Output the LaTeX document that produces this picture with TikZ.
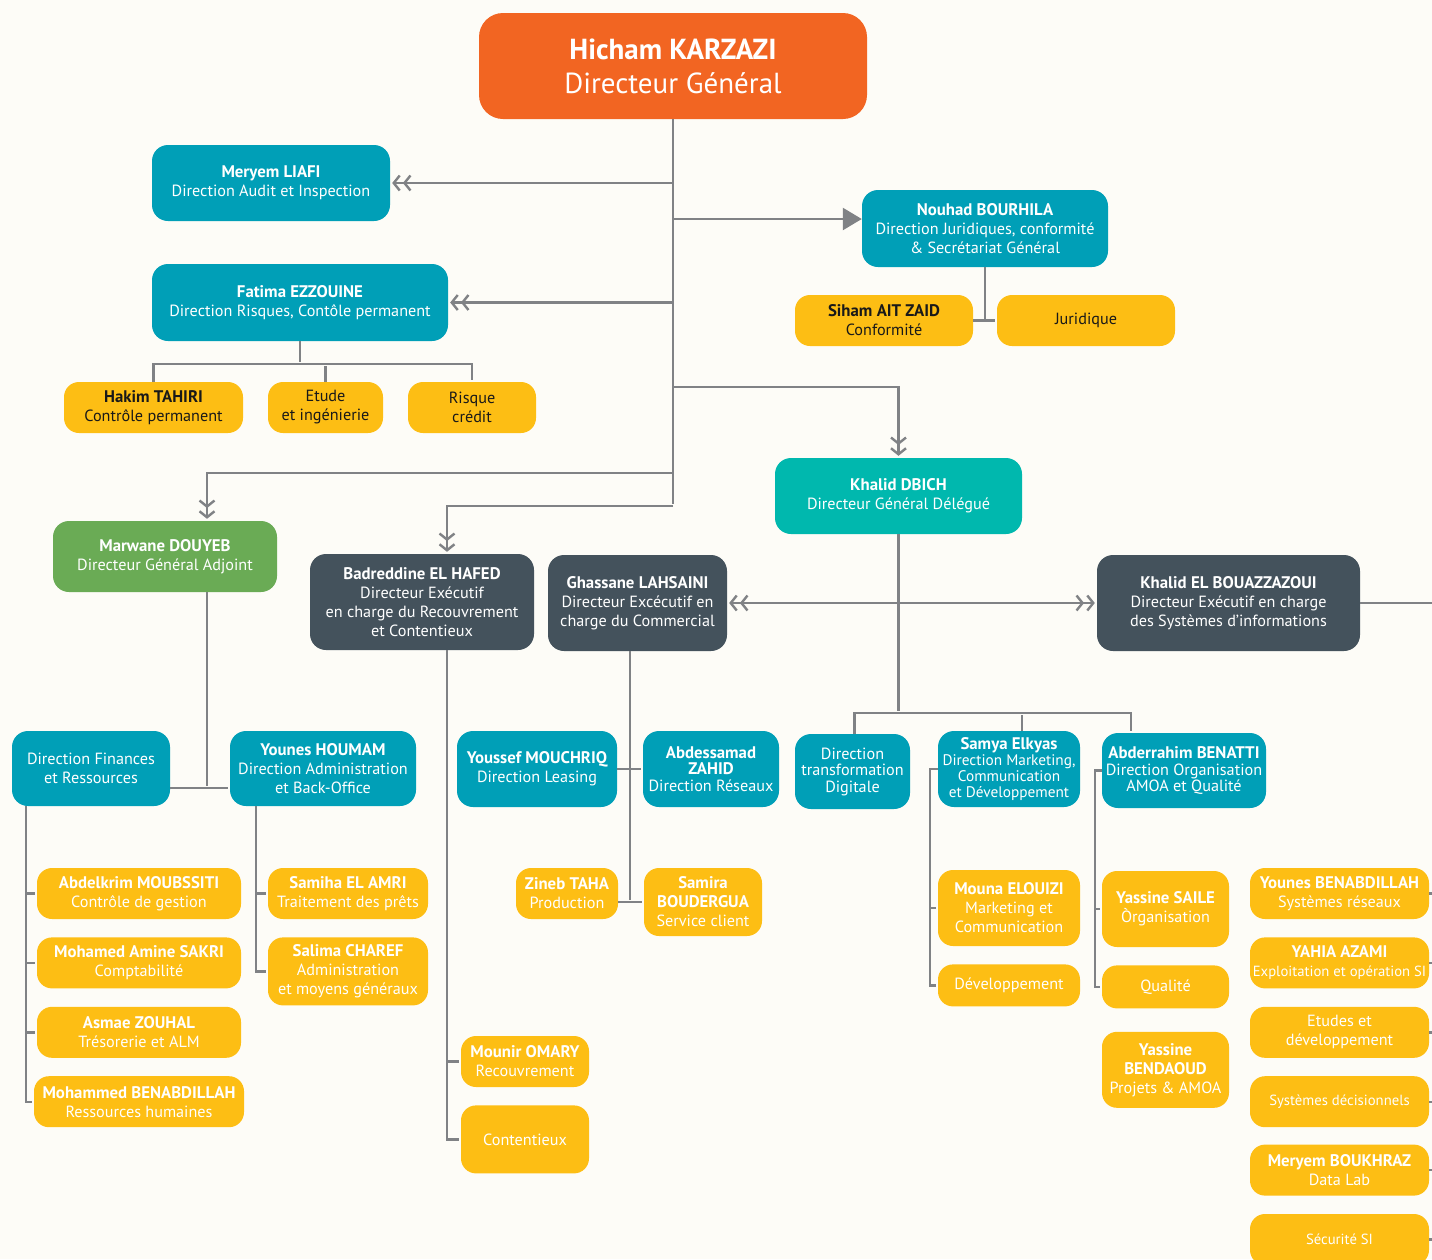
\documentclass[tikz,border=0pt]{standalone}
\usepackage{fontspec}
\setmainfont{PT Sans}
\usetikzlibrary{arrows.meta,positioning}

\definecolor{fond}{HTML}{FDFCF7}
\definecolor{orangeDG}{HTML}{F26522}
\definecolor{bleuDir}{HTML}{009FB7}
\definecolor{turqDGD}{HTML}{00B8AE}
\definecolor{vertDGA}{HTML}{6AAB55}
\definecolor{grisDE}{HTML}{44525C}
\definecolor{jaune}{HTML}{FDBE14}
\definecolor{trait}{HTML}{808285}

\newcommand\nom[1]{{\fontsize{16.8}{19}\selectfont\bfseries #1}}

\tikzset{
  box/.style={rounded corners=16pt, align=center, inner sep=2pt, text=white,
    font=\fontsize{16.2}{19}\selectfont},
  dir/.style={box, fill=bleuDir},
  exec/.style={box, fill=grisDE},
  serv/.style={box, fill=jaune, rounded corners=15pt},
  servn/.style={serv, text=black!90},
  serre/.style={font=\fontsize{16.2}{16.5}\selectfont},
  etroit/.style={font=\fontsize{14.7}{19}\selectfont},
  taille/.style 2 args={minimum width=#1pt, minimum height=#2pt},
  lien/.style={draw=trait, line width=2.4pt},
}

\begin{document}
\begin{tikzpicture}[x=1pt,y=-1pt,
  >={Straight Barb[length=6pt,width=15pt,sep=2pt]Straight Barb[length=6pt,width=15pt]},
  shorten >=2pt]
\fill[fond] (0,0) rectangle (1432,1259);
\useasboundingbox (0,0) rectangle (1432,1259);

\node[box, fill=orangeDG, taille={388}{106}, rounded corners=24pt,
  font=\fontsize{29}{34}\selectfont] (dg) at (673,66)
  {\textbf{Hicham KARZAZI}\\Directeur Général};

\node[dir, taille={238}{76}] (meryem) at (271,183)
  {\nom{Meryem LIAFI}\\Direction Audit et Inspection};
\node[dir, taille={296}{77}] (fatima) at (300,302.5)
  {\nom{Fatima EZZOUINE}\\Direction Risques, Contôle permanent};
\node[servn, taille={179}{51}] (hakim) at (153.5,407.5)
  {\nom{Hakim TAHIRI}\\Contrôle permanent};
\node[servn, taille={115}{51}] (etude) at (325.5,407.5) {Etude\\et ingénierie};
\node[servn, taille={128}{51}] (risque) at (472,407.5) {Risque\\crédit};

\node[dir, taille={246}{77}] (nouhad) at (985,228.5)
  {\nom{Nouhad BOURHILA}\\Direction Juridiques, conformité\\\& Secrétariat Général};
\node[servn, taille={178}{51}] (siham) at (884,320.5)
  {\nom{Siham AIT ZAID}\\Conformité};
\node[servn, taille={178}{51}] (juridique) at (1086,320.5) {Juridique};

\node[box, fill=turqDGD, taille={247}{76}] (dbich) at (898.5,496)
  {\nom{Khalid DBICH}\\Directeur Général Délégué};
\node[box, fill=vertDGA, taille={224}{71}] (marwane) at (165,556.5)
  {\nom{Marwane DOUYEB}\\Directeur Général Adjoint};
\node[exec, taille={224}{96}] (badr) at (422,602)
  {\nom{Badreddine EL HAFED}\\Directeur Exécutif\\en charge du Recouvrement\\et Contentieux};
\node[exec, taille={179}{96}] (ghassane) at (637.5,603)
  {\nom{Ghassane LAHSAINI}\\Directeur Excécutif en\\charge du Commercial};
\node[exec, taille={263}{96}] (keb) at (1228.5,603)
  {\nom{Khalid EL BOUAZZAZOUI}\\Directeur Exécutif en charge\\des Systèmes d'informations};

\node[dir, taille={158}{75}] (finances) at (91,768.5) {Direction Finances\\et Ressources};
\node[dir, taille={186}{75}] (houmam) at (323,768.5)
  {\nom{Younes HOUMAM}\\Direction Administration\\et Back-Office};
\node[serv, taille={204}{51}] (abdelkrim) at (139,893.5)
  {\nom{Abdelkrim MOUBSSITI}\\Contrôle de gestion};
\node[serv, taille={204}{51}, below=18pt of abdelkrim] (sakri)
  {\nom{Mohamed Amine SAKRI}\\Comptabilité};
\node[serv, taille={204}{51}, below=18pt of sakri] (asmae)
  {\nom{Asmae ZOUHAL}\\Trésorerie et ALM};
\node[serv, taille={210}{51}, below=18pt of asmae] (benab)
  {\nom{Mohammed BENABDILLAH}\\Ressources humaines};
\node[serv, taille={160}{51}] (samiha) at (348,893.5)
  {\nom{Samiha EL AMRI}\\Traitement des prêts};
\node[serv, taille={160}{68}, below=18pt of samiha] (salima)
  {\nom{Salima CHAREF}\\Administration\\et moyens généraux};

\node[serv, taille={128}{51}] (mounir) at (525,1061.5)
  {\nom{Mounir OMARY}\\Recouvrement};
\node[serv, taille={128}{68}, below=18pt of mounir] (contentieux) {Contentieux};

\node[dir, taille={160}{76}] (youssef) at (537,769)
  {\nom{Youssef MOUCHRIQ}\\Direction Leasing};
\node[dir, taille={136}{76}, serre] (abdessamad) at (711,769)
  {\nom{Abdessamad}\\\nom{ZAHID}\\Direction Réseaux};
\node[serv, taille={102}{51}] (zineb) at (567,893.5) {\nom{Zineb TAHA}\\Production};
\node[serv, taille={118}{68}] (samira) at (703,902)
  {\nom{Samira}\\\nom{BOUDERGUA}\\Service client};

\node[dir, taille={115}{75}, serre] (digitale) at (852.5,771.5)
  {Direction\\transformation\\Digitale};
\node[dir, taille={142}{76}, font=\fontsize{15.3}{16}\selectfont] (samya) at (1009,769)
  {\nom{Samya Elkyas}\\Direction Marketing,\\Communication\\et Développement};
\node[dir, taille={164}{75}, serre] (abderrahim) at (1184,770.5)
  {\nom{Abderrahim BENATTI}\\Direction Organisation\\AMOA et Qualité};
\node[serv, taille={142}{76}] (mouna) at (1009,908)
  {\nom{Mouna ELOUIZI}\\Marketing et\\Communication};
\node[serv, taille={142}{42}, below=18pt of mouna] (dev) {Développement};
\node[serv, taille={127}{76}] (saile) at (1165.5,909)
  {\nom{Yassine SAILE}\\Òrganisation};
\node[serv, taille={127}{43}, below=18pt of saile] (qualite) {Qualité};
\node[serv, taille={127}{76}, below=23pt of qualite] (bendaoud)
  {\nom{Yassine}\\\nom{BENDAOUD}\\Projets \& AMOA};

\node[serv, taille={179}{51}] (ybenab) at (1339.5,893.5)
  {\nom{Younes BENABDILLAH}\\Systèmes réseaux};
\node[serv, taille={179}{51}, below=18pt of ybenab, etroit] (azami)
  {\nom{YAHIA AZAMI}\\Exploitation et opération SI};
\node[serv, taille={179}{51}, below=18pt of azami] (etudes) {Etudes et\\développement};
\node[serv, taille={179}{51}, below=18pt of etudes, etroit] (decis) {Systèmes décisionnels};
\node[serv, taille={179}{51}, below=17pt of decis] (boukhraz)
  {\nom{Meryem BOUKHRAZ}\\Data Lab};
\node[serv, taille={179}{51}, below=18pt of boukhraz, etroit] (securite) {Sécurité SI};

\coordinate (jN) at (673,219);
\coordinate (jD) at (673,387);
\coordinate (jM) at (673,473);
\coordinate (jB) at (673,506);
\coordinate (bF) at (300,364);
\coordinate (bD) at (898.5,713);
\coordinate (bM) at (207,788);

\draw[lien] (dg.south) -- (jB);
\draw[lien,->] (dg.south |- meryem.east) -- (meryem.east);
\draw[lien,->] (dg.south |- fatima.east) -- (fatima.east);
\draw[lien,-{Triangle[length=19pt,width=22pt]},shorten >=0pt] (jN) -- (jN -| nouhad.west);
\draw[lien,->] (jD) -| (dbich.north);
\draw[lien,->] (jM) -| ([xshift=42pt]marwane.north);
\draw[lien,->] (jB) -| ([xshift=25pt]badr.north);

\draw[lien] (fatima.south) -- (bF);
\draw[lien] (hakim.north) |- (bF) -| (risque.north);
\draw[lien] (etude.north) -- (etude.north |- bF);

\draw[lien] (nouhad.south) -- (nouhad.south |- siham.east);
\draw[lien] (siham.east) -- (juridique.west);

\draw[lien,<->,shorten <=2pt] (ghassane.east) -- (keb.west);
\draw[lien] (keb.east) -- ++(90,0);
\draw[lien] (dbich.south) -- (bD);
\draw[lien] ([xshift=2pt]digitale.north) |- (bD) -| ([xshift=-53pt]abderrahim.north);
\draw[lien] ([xshift=13pt]samya.north) -- ([xshift=13pt]samya.north |- bD);

\draw[lien] ([xshift=42pt]marwane.south) -- (bM);
\draw[lien] (bM -| finances.east) -- (bM -| houmam.west);
\draw[lien] ([xshift=-65pt]finances.south) |- (benab.west);
\foreach \n in {abdelkrim,sakri,asmae}
  \draw[lien] ([xshift=-65pt]finances.south |- \n.west) -- (\n.west);
\draw[lien] ([xshift=-67pt]houmam.south) |- (salima.west);
\draw[lien] ([xshift=-67pt]houmam.south |- samiha.west) -- (samiha.west);

\draw[lien] ([xshift=25pt]badr.south) |- (contentieux.west);
\draw[lien] ([xshift=25pt]badr.south |- mounir.west) -- (mounir.west);

\draw[lien] ([xshift=-7.5pt]ghassane.south) -- ([xshift=-7.5pt]ghassane.south |- samira.west);
\draw[lien] (youssef.east) -- (abdessamad.west);
\draw[lien] (zineb.east |- samira.west) -- (samira.west);

\draw[lien] (samya.west) -- ++(-8,0) |- (dev.west);
\draw[lien] ([xshift=-8pt]samya.west |- mouna.west) -- (mouna.west);
\draw[lien] (abderrahim.west) -- ++(-7,0) |- (qualite.west);
\draw[lien] ([xshift=-7pt]abderrahim.west |- saile.west) -- (saile.west);

\foreach \n in {ybenab,azami,etudes,decis,boukhraz,securite}
  \draw[lien] (\n.east) -- ++(10,0);
\end{tikzpicture}
\end{document}
